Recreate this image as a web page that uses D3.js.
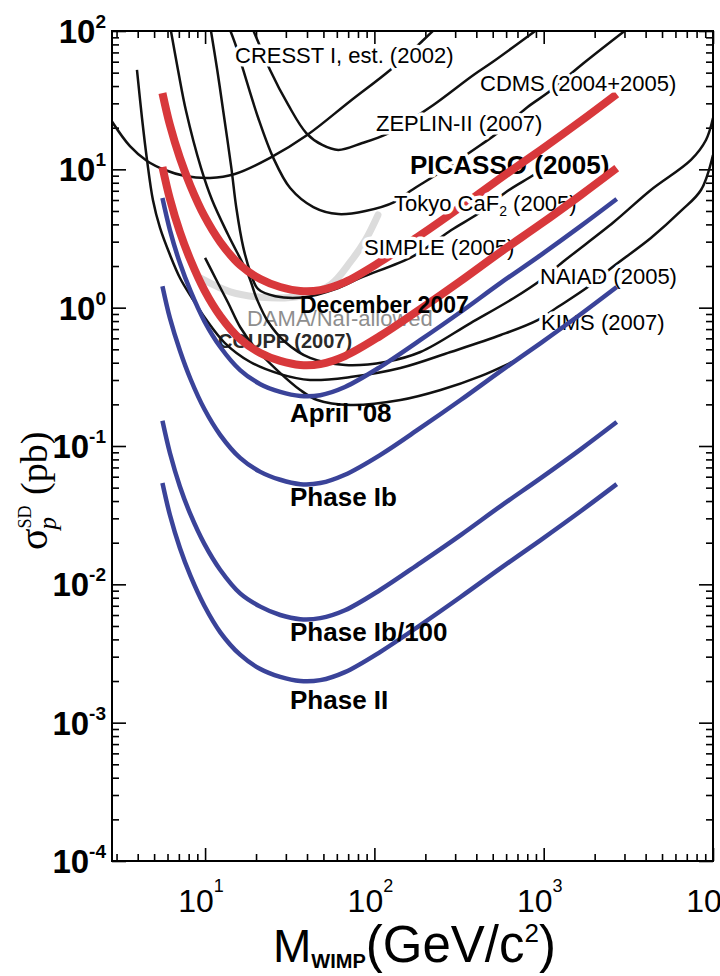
<!DOCTYPE html>
<html>
<head>
<meta charset="utf-8">
<script src="https://cdn.jsdelivr.net/npm/d3@7"></script>
<style>
  body { margin: 0; background: #fff; }
  svg { display: block; }
</style>
</head>
<body>
<svg id="chart" width="720" height="976"></svg>
<script>
// ---- data (mass in GeV/c2, cross section in pb) ----
var xMajor = [10, 100, 1000, 10000]
var xExp = ['1', '2', '3', '4']
var yMajor = [1e2, 1e1, 1, 1e-1, 1e-2, 1e-3, 1e-4]
var yExp = ['2', '1', '0', '-1', '-2', '-3', '-4']

// other experiments (black)
var cresst = [[2.7,24],[3.6,14.7],[4.54,11.5],[5.8,9.89],[7.62,8.95],[10.7,8.66],[15,9.25],[24.2,12.1],[40.1,17.7],[72.1,31.2],[124,52.3],[192,84.7],[240,110]]
var zeplin = [[18.7,110],[20.6,83.3],[24.2,52.3],[31,29.2],[39.6,18.3],[49.2,15],[61.2,13.8],[84.9,15.5],[118,18],[163,22.7],[223,29.2],[385,48.1],[499,59.7],[921,103]]
var tokyo = [[13.7,110],[15.3,76.6],[16.8,52.3],[20.6,23.5],[25.3,12.1],[31.8,7.33],[43.6,5.34],[61.2,4.75],[88.5,5.0],[131,5.8],[163,6.97],[246,9.56],[424,15],[534,18.3],[804,28.2],[1071,36.2],[1725,58.7],[3099,103]]
var simple = [[10.7,110],[11.8,52.3],[12.8,26.4],[14.3,10.2],[15.3,5.25],[16.8,2.74],[18.5,1.81],[20.6,1.36],[26,1.21],[39,1.19],[58.8,1.36],[82.6,1.64],[170,2.36],[285,3.64],[415,4.83],[611,6.97],[871,9.1],[1100,11.1]]
var naiad = [[6.2,110],[6.92,52.3],[7.72,26.4],[9.47,10.2],[11,6.0],[13.7,3.35],[18,1.72],[20.3,1.14],[23.6,0.788],[29.7,0.565],[41.7,0.433],[67.3,0.385],[116,0.405],[187,0.478],[370,0.774],[663,1.17],[960,1.58],[1341,2.21],[2596,4.16],[4297,7.09],[7410,11.7],[9090,16.3],[10000,23.5]]
var kims = [[3.96,52.3],[4.24,23.5],[4.54,11.7],[4.92,6.0],[5.42,3.77],[6.21,2.4],[7.11,1.64],[8.38,1.17],[10,0.842],[13.1,0.555],[18.5,0.405],[27.8,0.331],[41.7,0.3],[72.1,0.315],[142.5,0.366],[282,0.478],[557,0.634],[921,0.814],[1210,1.01],[1822,1.41],[2596,2.0],[4297,3.19],[6467,5.0],[8492,7.09],[10000,12.7]]
var coupp = [[10,2.29],[11.5,1.64],[13.7,1.08],[16.1,0.725],[19.8,0.511],[26.6,0.354],[36.5,0.254],[46,0.215],[72.1,0.198],[142.5,0.215],[246,0.254],[424,0.32],[731,0.433]]
var dama = [[9.34,1.64],[14.1,1.3],[21.2,1.19],[36.5,1.21],[54.9,1.46],[72.1,2.14],[88.5,3.08],[105,4.68]]

// PICASSO curves, all on the same mass grid
var picassoMass = [5.6, 6.2, 7.1, 8.2, 9.9, 12.3, 16.1, 21.2, 27.8, 36.5, 47.9, 67, 108, 187, 323, 557, 960, 1660, 2700]
var picasso2005 = [35.6, 20.9, 12.1, 7.58, 4.6, 2.98, 2.03, 1.61, 1.41, 1.32, 1.34, 1.53, 2.14, 3.35, 5.35, 8.66, 13.8, 22.4, 35.0]
var december07 = [10.4, 6.1, 3.52, 2.21, 1.34, 0.87, 0.593, 0.47, 0.412, 0.385, 0.391, 0.447, 0.624, 0.978, 1.56, 2.53, 4.02, 6.53, 10.2]
var april08 = [6.2, 3.64, 2.1, 1.32, 0.8, 0.52, 0.354, 0.28, 0.246, 0.23, 0.233, 0.267, 0.372, 0.584, 0.93, 1.51, 2.4, 3.9, 6.1]
var phaseIb = [1.43, 0.84, 0.49, 0.305, 0.185, 0.12, 0.082, 0.065, 0.057, 0.053, 0.054, 0.062, 0.086, 0.135, 0.215, 0.348, 0.555, 0.9, 1.41]
var phaseIb100 = [0.152, 0.089, 0.051, 0.032, 0.0196, 0.0127, 0.0086, 0.0069, 0.006, 0.0056, 0.0057, 0.0065, 0.0091, 0.0143, 0.0227, 0.0368, 0.0586, 0.095, 0.149]
var phaseII = [0.054, 0.0317, 0.0183, 0.0115, 0.007, 0.0045, 0.0031, 0.00244, 0.00214, 0.002, 0.00203, 0.00232, 0.00324, 0.00508, 0.0081, 0.0131, 0.0209, 0.0339, 0.053]

// ---- scales ----
var svg = d3.select('#chart')
var x = d3.scaleLog().domain([2.82, 1e4]).range([112, 713])
var y = d3.scaleLog().domain([1e-4, 1e2]).range([861, 31])
var x0 = x.range()[0], x1 = x.range()[1]
var yb = y.range()[0], yt = y.range()[1]

var sans = 'Liberation Sans, Arial, Helvetica, sans-serif'

svg.append('defs').append('clipPath').attr('id', 'plotclip')
    .append('rect')
    .attr('x', x0).attr('y', yt)
    .attr('width', x1 - x0).attr('height', yb - yt)

var line = d3.line()
    .x(function(d) { return x(d[0]) })
    .y(function(d) { return y(d[1]) })
    .curve(d3.curveCatmullRom.alpha(0.5))

function zip(sig) {
    return picassoMass.map(function(m, i) { return [m, sig[i]] })
}

function layer() {
    return svg.append('g').attr('clip-path', 'url(#plotclip)')
}

// ---- ticks ----
function isMajor(v) {
    var l = Math.log10(v)
    return Math.abs(l - Math.round(l)) < 1e-6
}
var xMinor = x.ticks().filter(function(v) { return !isMajor(v) })
var yMinor = y.ticks().filter(function(v) { return !isMajor(v) })

function ticks(axis, tx, ty, vals, len) {
    var g = svg.append('g')
        .attr('transform', 'translate(' + tx + ',' + ty + ')')
        .call(axis.tickValues(vals).tickSize(-len).tickFormat(''))
    g.select('.domain').remove()
    g.selectAll('line').attr('stroke', '#000').attr('stroke-width', 1.6)
}
ticks(d3.axisBottom(x), 0, yb, xMinor, 7)
ticks(d3.axisBottom(x), 0, yb, xMajor, 13)
ticks(d3.axisTop(x), 0, yt, xMinor, 7)
ticks(d3.axisTop(x), 0, yt, xMajor, 13)
ticks(d3.axisLeft(y), x0, 0, yMinor, 7)
ticks(d3.axisLeft(y), x0, 0, yMajor, 14)
ticks(d3.axisRight(y), x1, 0, yMinor, 7)
ticks(d3.axisRight(y), x1, 0, yMajor, 14)

// tick labels
xMajor.forEach(function(v, i) {
    var t = svg.append('text')
        .attr('x', x(v) - 4).attr('y', 912)
        .attr('text-anchor', 'middle')
        .style('font-family', sans)
    t.append('tspan').style('font-size', '32px').text('10')
    t.append('tspan').style('font-size', '18px').attr('dy', -20).text(xExp[i])
})
yMajor.forEach(function(v, i) {
    var t = svg.append('text')
        .attr('x', 106).attr('y', y(v) + 12)
        .attr('text-anchor', 'end')
        .style('font-family', sans)
        .style('font-weight', 'bold')
    t.append('tspan').style('font-size', '33px').text('10')
    t.append('tspan').style('font-size', '19px').attr('dy', -15).text(yExp[i])
})

// axis titles
var xt = svg.append('text')
    .attr('x', 273).attr('y', 962)
    .style('font-family', sans)
xt.append('tspan').style('font-size', '46px').text('M')
xt.append('tspan').style('font-size', '20px').style('font-weight', 'bold').attr('dy', 6).text('WIMP')
xt.append('tspan').style('font-size', '51px').attr('dy', -6).text('(GeV/c')
xt.append('tspan').style('font-size', '26px').attr('dy', -20).text('2')
xt.append('tspan').style('font-size', '51px').attr('dy', 20).text(')')

var yt2 = svg.append('text')
    .attr('transform', 'translate(47,550) rotate(-90)')
    .style('font-family', 'Liberation Serif, Times New Roman, serif')
yt2.append('tspan').style('font-size', '40px').text('σ')
yt2.append('tspan').style('font-size', '18px').attr('dy', -16).text('SD')
yt2.append('tspan').style('font-size', '25px').style('font-style', 'italic').attr('dx', -24).attr('dy', 25).text('p')
yt2.append('tspan').style('font-size', '38px').attr('dx', 22).attr('dy', -9).text('(pb)')

// ---- text helpers ----
function plain(txt, px, py, size, weight, fill) {
    return svg.append('text')
        .attr('x', px).attr('y', py)
        .style('font-family', sans)
        .style('font-size', size + 'px')
        .style('font-weight', weight)
        .style('fill', fill)
        .text(txt)
}

function halo(txt, px, py, size, weight) {
    return plain(txt, px, py, size, weight, '#000')
        .style('stroke', '#fff')
        .style('stroke-width', 7)
        .style('stroke-linejoin', 'round')
        .style('paint-order', 'stroke')
}

// ---- curves, bottom to top ----
layer().append('path').datum(dama)
    .attr('d', line)
    .attr('fill', 'none')
    .attr('stroke', '#dcdcdc')
    .attr('stroke-width', 7)
    .attr('stroke-linecap', 'round')
plain('DAMA/NaI-allowed', 247, 326, 22, 'normal', '#8e8e8e')
plain('COUPP (2007)', 218, 348, 20, 'bold', '#2a2a2a')

layer().selectAll('.other')
    .data([cresst, zeplin, tokyo, simple, naiad, kims, coupp])
    .enter()
    .append('path')
    .attr('class', 'other')
    .attr('d', line)
    .attr('fill', 'none')
    .attr('stroke', '#111')
    .attr('stroke-width', 2.5)

halo('PICASSO (2005)', 410, 174, 26, 'bold')

layer().append('path').datum(zip(picasso2005))
    .attr('d', line)
    .attr('fill', 'none')
    .attr('stroke', '#d8383b')
    .attr('stroke-width', 8)

halo('CRESST I, est. (2002)', 235, 63, 22, 'normal')
halo('CDMS (2004+2005)', 480, 91, 22, 'normal')
halo('ZEPLIN-II (2007)', 376, 131, 22, 'normal')
var tk = halo('', 394, 211, 22, 'normal')
tk.append('tspan').text('Tokyo CaF')
tk.append('tspan').style('font-size', '14px').attr('dy', 5).text('2')
tk.append('tspan').attr('dy', -5).text(' (2005)')
halo('SIMPLE (2005)', 364, 255, 22, 'normal')
halo('NAIAD (2005)', 540, 284, 22, 'normal')
halo('KIMS (2007)', 541, 330, 22, 'normal')

var front = layer()
front.append('path').datum(zip(december07))
    .attr('d', line)
    .attr('fill', 'none')
    .attr('stroke', '#d8383b')
    .attr('stroke-width', 8)

front.selectAll('.proj')
    .data([april08, phaseIb, phaseIb100, phaseII])
    .enter()
    .append('path')
    .attr('class', 'proj')
    .attr('d', function(d) { return line(zip(d)) })
    .attr('fill', 'none')
    .attr('stroke', '#3a4399')
    .attr('stroke-width', 4.5)

// bold labels on top
plain('December 2007', 300, 313, 23, 'bold', '#000')
plain("April '08", 290, 422, 26, 'bold', '#000')
plain('Phase Ib', 290, 506, 26, 'bold', '#000')
plain('Phase Ib/100', 290, 641, 26, 'bold', '#000')
plain('Phase II', 290, 709, 26, 'bold', '#000')

// frame
svg.append('rect')
    .attr('x', x0).attr('y', yt)
    .attr('width', x1 - x0).attr('height', yb - yt)
    .attr('fill', 'none')
    .attr('stroke', '#000')
    .attr('stroke-width', 2)
</script>
</body>
</html>
